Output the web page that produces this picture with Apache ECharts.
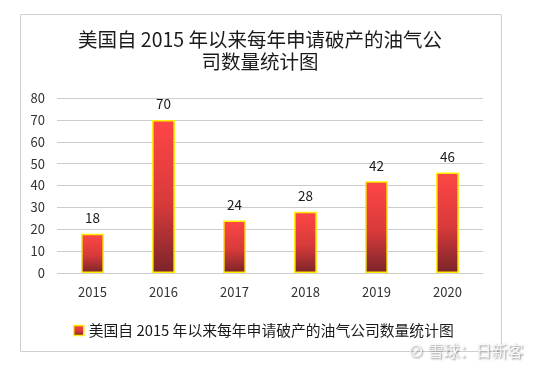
<!DOCTYPE html>
<html><head><meta charset="utf-8">
<script src="https://cdn.jsdelivr.net/npm/echarts@6/dist/echarts.min.js"></script>
<style>html,body{margin:0;padding:0;background:#fff}#c{width:537px;height:370px}</style>
</head><body><div id="c"></div>
<script>
var categories = ['2015','2016','2017','2018','2019','2020'];
var bankruptcies = [18, 70, 24, 28, 42, 46];
var yTicks = [0,10,20,30,40,50,60,70,80];
var seriesName = '美国自 2015 年以来每年申请破产的油气公司数量统计图';
var chartTitle = '美国自 2015 年以来每年申请破产的油气公\n司数量统计图';

var font = '"Microsoft YaHei","Noto Sans CJK SC","DejaVu Sans",sans-serif';
var grad = new echarts.graphic.LinearGradient(0,0,0,1,[
  {offset:0,color:'#ff4646'},{offset:0.55,color:'#d83a3a'},{offset:1,color:'#7a2428'}]);
var chart = echarts.init(document.getElementById('c'), null, {renderer:'canvas'});
chart.setOption({
  animation:false,
  backgroundColor:'#fff',
  title:{text:chartTitle,left:255,textAlign:'center',top:24,
    textStyle:{fontFamily:font,fontSize:19.5,fontWeight:'normal',color:'#1a1a1a',lineHeight:22}},
  graphic:[
    {type:'rect',shape:{x:20.5,y:14.5,width:481,height:337},style:{fill:'none',stroke:'#cfcfcf',lineWidth:1},z:-1},
    {type:'text',left:408,top:343,style:{text:'⊘ 雪球：日新客',fill:'#f8f8f8',font:'16px '+font,
      textShadowColor:'rgba(0,0,0,0.45)',textShadowBlur:2,textShadowOffsetX:1,textShadowOffsetY:1},z:10}
  ],
  legend:{left:68,top:318,itemWidth:10,itemHeight:10,itemGap:5,
    textStyle:{fontFamily:font,fontSize:14.8,color:'#1a1a1a'},
    data:[{name:seriesName,icon:'rect',itemStyle:{color:grad,borderColor:'#ffee00',borderWidth:1.5}}]},
  grid:{left:57,right:54,top:98,bottom:97,containLabel:false},
  xAxis:{type:'category',data:categories,
    axisLine:{show:false},axisTick:{show:false},
    axisLabel:{fontFamily:font,fontSize:13,color:'#333',margin:13}},
  yAxis:{type:'value',min:yTicks[0],max:yTicks[yTicks.length-1],interval:10,
    axisLine:{show:false},axisTick:{show:false},
    splitLine:{lineStyle:{color:'#cccccc',width:1}},
    axisLabel:{fontFamily:font,fontSize:13,color:'#333',margin:12}},
  series:[{name:seriesName,type:'bar',data:bankruptcies,barWidth:'32%',
    itemStyle:{color:grad,borderColor:'#ffee00',borderWidth:1.5},
    label:{show:true,position:'top',distance:9,fontFamily:font,fontSize:13.5,color:'#1a1a1a'}}]
});
</script></body></html>
